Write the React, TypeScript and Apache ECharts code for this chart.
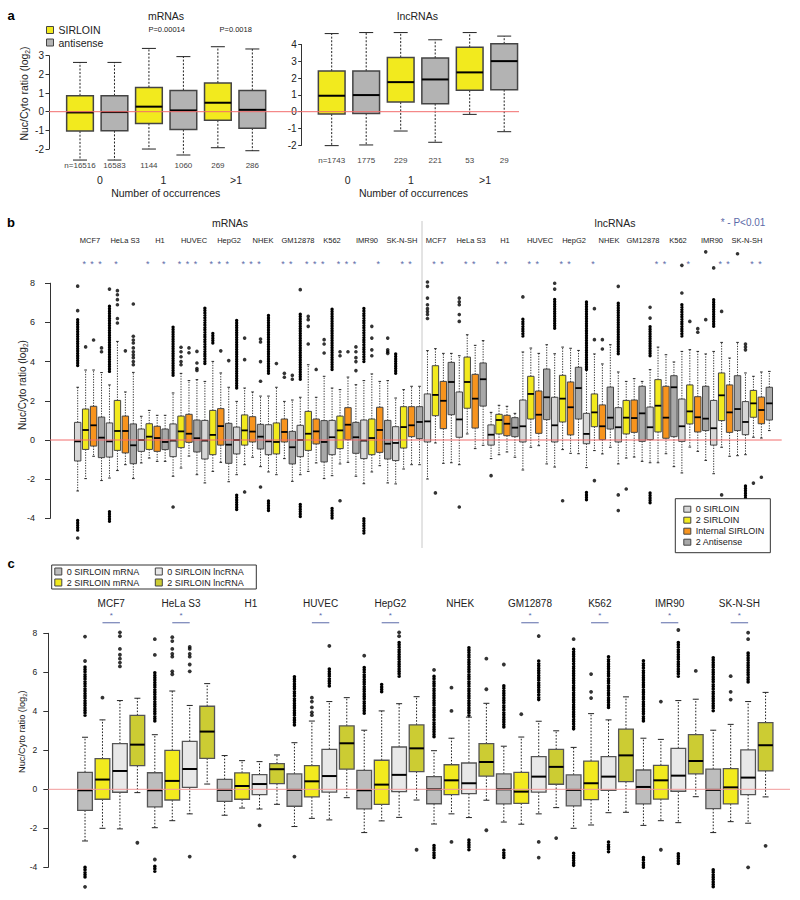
import React, { useEffect, useRef } from "react";
import * as echarts from "echarts";

const FONT = '"Liberation Sans", Arial, Helvetica, sans-serif';

// ================= panel a =================
const aCountLabels = ["0", "1", ">1"];
const aMrnaN = ["n=16516", "16583", "1144", "1060", "269", "286"];
const aLncN = ["n=1743", "1775", "229", "221", "53", "29"];
// rows: [min, Q1, median, Q3, max] for 0 / 1 / >1 occurrences
const aMrnaSirloin = [
  [-2.59, -1.04, -0.04, 0.86, 2.64],
  [-2.0, -0.63, 0.27, 1.3, 3.39],
  [-1.93, -0.46, 0.48, 1.54, 3.48],
];
const aMrnaAntisense = [
  [-2.59, -1.02, -0.02, 0.86, 2.64],
  [-2.32, -0.96, 0.07, 1.14, 2.95],
  [-2.09, -0.88, 0.1, 1.14, 3.36],
];
const aLncSirloin = [
  [-2.02, -0.14, 0.95, 2.42, 4.65],
  [-1.15, 0.57, 1.76, 3.23, 4.71],
  [-0.16, 1.27, 2.34, 3.84, 4.71],
];
const aLncAntisense = [
  [-1.98, -0.1, 0.99, 2.42, 4.71],
  [-1.82, 0.48, 1.92, 3.19, 4.28],
  [-1.19, 1.31, 3.01, 4.04, 4.5],
];
const aPValues = ["P=0.00014", "P=0.0018"];

// ================= panel b =================
const cellLines = ["MCF7", "HeLa S3", "H1", "HUVEC", "HepG2", "NHEK", "GM12878", "K562", "IMR90", "SK-N-SH"];
const bMrnaLabelX = [90, 125, 160, 194, 229, 263, 298, 332, 367, 402];
const bLncLabelX = [436, 471, 505, 540, 574, 609, 643, 678, 712, 747];
// 22 groups (11 mRNA then 11 lncRNA); rows [min, Q1, median, Q3, max]
const bZero = [
  [-2.6, -1.07, -0.07, 0.9, 2.69], [-1.94, -0.87, -0.07, 0.87, 2.81], [-1.17, -0.58, 0, 0.56, 1.21],
  [-1.85, -0.85, -0.03, 0.82, 2.4], [-2.19, -0.97, -0.03, 1.0, 2.99], [-1.77, -0.71, 0, 0.66, 1.97],
  [-1.63, -0.75, -0.07, 0.78, 2.24], [-1.77, -0.85, 0, 0.75, 2.18], [-1.82, -0.75, 0.14, 1.0, 2.65],
  [-2.23, -0.95, -0.03, 1.02, 3.03], [-2.24, -1.05, -0.15, 0.68, 2.14],
  [-1.99, -0.1, 0.95, 2.35, 4.56], [-1.26, 0.14, 1.05, 2.45, 4.3], [-0.95, -0.26, 0.27, 0.77, 1.41],
  [-1.53, -0.1, 0.7, 2.04, 4.49], [-1.38, -0.1, 0.75, 2.18, 4.4], [-1.41, -0.19, 0.31, 1.36, 3.67],
  [-1.22, -0.1, 0.65, 1.65, 3.47], [-1.16, 0.02, 0.65, 1.68, 3.59], [-1.68, -0.07, 0.7, 2.09, 4.52],
  [-1.72, -0.26, 0.6, 2.02, 4.52], [-0.75, 0.27, 0.92, 1.96, 3.42],
];
const bTwo = [
  [-1.97, -0.48, 0.51, 1.58, 3.57], [-1.56, -0.53, 0.46, 2.02, 5.03], [-0.92, -0.48, 0.17, 0.83, 1.51],
  [-1.43, -0.39, 0.44, 1.22, 3.4], [-1.6, -0.75, 0.26, 1.51, 4.01], [-1.26, -0.26, 0.49, 1.28, 2.65],
  [-1.77, -0.71, -0.1, 0.87, 2.69], [-1.6, -0.53, 0.32, 1.46, 3.84], [-1.22, -0.44, 0.49, 1.22, 2.57],
  [-1.63, -0.75, 0.1, 1.07, 3.37], [-1.48, -0.41, 0.66, 1.7, 2.57],
  [-0.15, 1.24, 2.3, 3.79, 4.66], [0.31, 1.62, 2.96, 4.23, 5.37], [-0.75, 0.31, 1.02, 1.31, 1.77],
  [-0.37, 1.07, 2.35, 3.25, 4.69], [-0.49, 0.92, 2.11, 3.3, 4.74], [-0.54, 0.68, 1.41, 2.35, 4.39],
  [-0.92, 0.31, 1.14, 2.02, 2.99], [-1.16, 0.41, 1.75, 3.08, 4.74], [-0.36, 0.82, 1.46, 2.81, 4.61],
  [-0.37, 0.99, 2.28, 3.42, 4.98], [0.14, 1.16, 1.87, 2.53, 3.25],
];
const bInternal = [
  [-0.83, -0.31, 0.75, 1.72, 3.57], [-1.26, -0.66, 0.46, 1.22, 2.45], [-1.09, -0.58, 0.1, 0.7, 1.26],
  [-0.82, -0.12, 0.32, 1.31, 3.03], [-1.14, -0.26, 0.71, 1.6, 3.42], [-0.88, -0.1, 0.43, 1.19, 2.45],
  [-0.95, -0.1, 0.41, 1.07, 1.97], [-1.17, -0.2, 0.44, 1.07, 2.18], [-1.14, 0.02, 0.78, 1.65, 3.21],
  [-1.31, -0.63, 0.51, 1.67, 2.99], [-1.26, 0.17, 0.75, 1.7, 2.74],
  [-1.19, 0.58, 2.0, 2.99, 4.42], [-0.44, 0.61, 2.11, 3.35, 4.83], [-0.61, 0.22, 0.83, 1.26, 1.72],
  [-0.29, 0.34, 1.29, 2.5, 4.42], [-0.68, 0.26, 1.67, 2.96, 4.68], [-0.71, 0.02, 0.7, 1.79, 3.88],
  [-0.87, 0.39, 1.12, 2.04, 3.13], [-0.7, 0.09, 1.14, 2.74, 4.35], [-0.58, 0.41, 1.16, 2.21, 4.52],
  [-0.83, 0.39, 1.41, 2.81, 4.18], [0.1, 0.83, 1.53, 2.19, 3.47],
];
const bAntisense = [
  [-2.07, -0.9, 0.12, 1.17, 3.44], [-1.97, -1.21, -0.27, 0.82, 3.45], [-1.09, -0.49, -0.1, 0.56, 1.26],
  [-1.77, -0.61, 0.09, 1.02, 3.08], [-2.13, -1.19, -0.24, 0.85, 2.69], [-1.36, -0.46, 0.17, 0.8, 2.24],
  [-2.11, -1.22, -0.37, 0.44, 2.04], [-1.97, -1.12, -0.1, 0.99, 3.25], [-1.85, -0.68, 0.14, 0.9, 2.82],
  [-2.19, -0.97, -0.19, 1.0, 3.03], [-1.26, 0.07, 0.92, 1.7, 2.74],
  [-1.16, 1.29, 2.96, 3.96, 4.42], [-0.27, 1.73, 3.1, 3.93, 5.07], [-0.88, 0.17, 0.63, 1.14, 1.36],
  [-1.22, 1.04, 2.18, 3.62, 4.86], [-0.7, 1.07, 2.65, 3.71, 4.57], [-0.37, 0.56, 1.14, 2.7, 4.86],
  [-1.09, -0.07, 1.36, 2.74, 2.99], [-1.36, 0.17, 2.69, 3.28, 3.98], [-1.04, 0.48, 1.09, 2.74, 4.39],
  [-0.8, 0.48, 1.58, 3.28, 4.98], [0.48, 1.02, 1.87, 2.69, 3.5],
];
// dense outlier runs [box index, low, high]
const bOutlierRuns = [
  [0, 3.8, 6.2], [0, -4.6, -4.0], [4, 3.5, 6.9], [4, -4.15, -3.55], [12, 3.3, 5.8], [16, 3.9, 6.82],
  [17, 4.95, 5.46], [20, 2.65, 6.14], [20, -3.55, -2.8], [24, 3.4, 6.36], [24, -3.6, -3.1],
  [28, 3.1, 6.5], [28, -3.9, -3.2], [32, 3.6, 6.73], [32, -3.98, -3.38], [36, 4.0, 6.8],
  [36, -4.75, -3.9], [40, 3.4, 4.4],
  [56, 5.3, 6.2], [60, 5.7, 7.2], [64, 3.6, 7.1], [64, -3.05, -2.6], [68, 4.4, 7.0],
  [72, 4.3, 5.8], [72, -3.2, -2.6], [76, 5.3, 6.9], [80, 5.8, 7.2], [84, -2.96, -2.3],
];
// single outliers [box index, value]
const bOutliers = [
  [0, 6.6], [0, 7.85], [0, -5.0], [1, 4.75], [2, 5.1], [3, 4.5], [3, 4.7], [4, 7.7],
  [5, 5.97], [5, 6.2], [5, 6.9], [5, 7.16], [5, 7.41], [5, 7.62], [6, 4.55],
  [7, 3.84], [7, 4.0], [7, 4.2], [7, 4.35], [7, 4.5], [7, 4.7], [7, 4.95], [7, 5.1], [7, 5.29], [7, 6.94],
  [12, -3.42], [13, 3.84], [13, 4.0], [13, 4.25], [13, 4.5], [13, 4.73], [14, 4.45], [14, 4.7],
  [15, 3.55], [15, 3.65], [15, 3.93], [15, 4.52], [18, 4.55], [19, 4.05],
  [21, 5.2], [21, 4.1], [21, -2.65], [23, 5.0], [23, 5.15], [23, 4.0], [23, 3.0], [23, -2.4],
  [25, 3.9], [26, 3.2], [26, 3.4], [27, 3.1], [27, 3.3], [28, 7.67],
  [29, 4.9], [29, 5.8], [29, 6.14], [29, 6.31], [30, 3.6], [31, 4.44], [31, 4.9], [31, 5.12],
  [33, 4.3], [33, 4.5], [33, -3.1], [34, 4.5], [35, 3.54], [35, 4.0], [35, 4.2], [35, 4.5], [35, 4.75],
  [37, 4.3], [37, 4.6], [37, 5.2], [37, 5.8], [39, 4.42], [39, 4.5], [39, 4.6], [39, 5.2],
  [44, 6.2], [44, 6.4], [44, 6.55], [44, 6.7], [44, 6.9], [44, 7.24], [44, 7.84], [44, 8.06], [45, -2.7],
  [48, 6.05], [48, 6.4], [48, 6.9], [48, 7.05], [48, 7.24], [48, -3.42], [52, -1.82], [56, 7.3],
  [60, 7.7], [60, 8.0], [61, -3.1], [65, 5.12], [65, 6.7], [65, -2.07], [66, 4.64], [66, 5.12],
  [68, 7.84], [68, -2.8], [68, -3.6], [69, -2.5], [72, 6.22], [72, 6.77], [76, 7.5], [76, 8.91],
  [77, 6.05], [78, 5.5], [78, 5.68], [79, 6.14], [79, 9.6], [80, 8.78], [81, 6.56], [81, -2.8],
  [83, 9.5], [84, 4.6], [84, 4.75], [84, 4.9], [85, -2.2], [86, -1.9],
];
const bStarMrna = [1, 2, 3, 5, 9, 11, 13, 14, 15, 17, 18, 19, 21, 22, 23, 26, 27, 29, 30, 31, 33, 34, 35, 38, 41, 42];
const bStarLnc = [1, 2, 5, 6, 9, 10, 13, 14, 17, 18, 21, 29, 30, 33, 37, 38, 41, 42];

// ================= panel c =================
const cZeroMrna = [
  [-2.65, -1.08, -0.05, 0.87, 2.67], [-1.97, -0.9, -0.05, 0.85, 2.8], [-1.33, -0.62, -0.03, 0.51, 1.73],
  [-1.91, -0.87, -0.03, 0.79, 2.39], [-2.22, -1.0, -0.05, 0.97, 3.03], [-1.78, -0.74, 0, 0.65, 1.98],
  [-1.68, -0.75, 0, 0.79, 2.21], [-2.0, -0.85, -0.03, 0.74, 2.15], [-1.85, -0.75, 0.12, 0.99, 2.62],
  [-2.22, -0.99, -0.03, 1.03, 3.03],
];
const cTwoMrna = [
  [-2.0, -0.51, 0.5, 1.57, 3.56], [-1.61, -0.55, 0.43, 2.0, 5.04], [-0.96, -0.51, 0.17, 0.84, 1.47],
  [-1.49, -0.39, 0.41, 1.21, 3.5], [-1.62, -0.77, 0.24, 1.49, 4.02], [-1.26, -0.27, 0.46, 1.26, 2.62],
  [-1.79, -0.72, -0.12, 0.87, 2.68], [-1.83, -0.53, 0.31, 1.45, 3.88], [-1.61, -0.5, 0.46, 1.23, 2.56],
  [-1.66, -0.75, 0.1, 1.06, 3.33],
];
const cZeroLnc = [
  [-2.03, -0.15, 0.94, 2.34, 4.55], [-1.26, 0.1, 1.04, 2.46, 4.3], [-1.01, -0.27, 0.27, 0.75, 1.42],
  [-1.57, -0.14, 0.68, 2.05, 4.5], [-1.44, -0.12, 0.74, 2.17, 4.39], [-1.45, -0.22, 0.31, 1.35, 3.7],
  [-1.26, -0.14, 0.65, 1.68, 3.49], [-1.2, -0.05, 0.65, 1.68, 3.56], [-1.71, -0.1, 0.7, 2.1, 4.55],
  [-1.74, -0.27, 0.6, 2.02, 4.5],
];
const cTwoLnc = [
  [-0.17, 1.21, 2.29, 3.79, 4.67], [0.27, 1.59, 2.96, 4.26, 5.42], [-0.77, 0.29, 1.03, 1.32, 1.76],
  [-0.43, 1.03, 2.36, 3.25, 4.7], [-0.55, 0.91, 2.1, 3.3, 4.75], [-0.56, 0.68, 1.4, 2.34, 4.41],
  [-0.94, 0.26, 1.15, 2.05, 3.0], [-1.18, 0.39, 1.74, 3.09, 4.74], [-0.38, 0.79, 1.45, 2.8, 4.62],
  [-0.39, 0.94, 2.26, 3.42, 4.97],
];
const cOutlierRuns = [
  [0, 3.8, 6.3], [0, -4.5, -3.9], [4, 3.5, 6.0], [4, -4.2, -3.9], [12, 3.3, 5.8], [14, 5.3, 6.2],
  [16, 3.9, 6.3], [17, 5.0, 5.4], [18, 5.8, 7.6], [20, 2.7, 5.8], [20, -3.5, -2.8], [22, 3.8, 7.35],
  [22, -3.1, -2.6], [24, 3.2, 5.42], [24, -3.5, -3.1], [26, 4.6, 6.63], [28, 3.1, 7.3], [28, -3.9, -3.2],
  [30, 4.2, 6.8], [30, -3.2, -2.6], [32, 3.5, 6.6], [32, -4.0, -3.5], [34, 5.8, 7.56], [34, -3.8, -3.3],
  [36, 4.03, 6.8], [36, -5.0, -4.1], [38, 5.5, 7.0],
];
const cOutliers = [
  [0, 6.58], [0, 7.83], [0, -5.0], [1, 4.7], [2, 6.3], [2, 6.5], [2, 6.7], [2, 6.9], [2, 7.2], [2, 7.85],
  [2, 8.05], [3, -2.74], [4, 6.89], [4, 7.7], [4, -3.6], [5, 5.9], [5, 6.05], [5, 6.8], [5, 6.95], [5, 7.2],
  [5, 7.6], [5, 7.8], [6, 6.05], [6, 6.4], [6, 6.8], [6, 6.95], [6, 7.2], [6, 7.3], [6, -3.45], [10, -1.85],
  [12, -3.45], [13, 3.8], [13, 3.95], [13, 4.2], [13, 4.5], [13, 4.7], [14, 7.35], [16, 6.85], [18, 7.85],
  [18, 8.05], [19, -3.1], [20, 6.12], [21, 4.02], [21, 5.21], [21, -2.7], [23, 5.13], [23, 6.7], [23, -2.1],
  [24, 6.4], [25, 3.85], [26, 7.86], [26, -2.7], [26, -3.5], [27, -2.5], [28, 7.7], [29, 4.68], [29, 5.0],
  [29, 5.91], [33, 4.5], [33, -3.1], [34, 8.17], [35, 6.07], [37, 4.6], [37, 5.0], [37, 5.8], [38, 7.7],
  [38, 8.03], [38, -4.0], [39, -2.9],
];
const cStarGroups = [0, 1, 3, 4, 6, 7, 8, 9];

// ================= layout =================
const A_LEFT_DATA = { left: 62.77, top: 37.02, width: 206.8, height: 130.69 }; // y -3..4
const A_LEFT_AXIS = { left: 49, top: 55.69, width: 470, height: 93.35 }; // y -2..3
const A_RIGHT_DATA = { left: 314.45, top: 27.7, width: 207, height: 134.4 }; // y -3..5
const A_RIGHT_AXIS = { left: 301.7, top: 44.5, width: 10, height: 100.8 }; // y -2..4
const B_DATA = { left: 73.7, top: 244, width: 699.6, height: 313.6 }; // y -6..10
const B_AXIS = { left: 50, top: 283.2, width: 731.7, height: 235.2 }; // y -4..8
const C_DATA = { left: 76.3, top: 604.05, width: 698, height: 292.5 }; // y -5.5..9.5
const C_AXIS = { left: 48.3, top: 633.3, width: 741.7, height: 234 }; // y -4..8

const YELLOW = "#f2ea1e";
const STAR_BLUE = "#5b6aa8";

type BoxCfg = { boxW: number; capW: number; border: string; bLine: number; medLine: number; dash: number[]; wLine: number; fill: string };

function boxRenderer(cfg: BoxCfg) {
  return function (_params: any, api: any) {
    const i = api.value(0);
    const c = (v: number) => api.coord([i, v]);
    const pMin = c(api.value(1));
    const pQ1 = c(api.value(2));
    const pMed = c(api.value(3));
    const pQ3 = c(api.value(4));
    const pMax = c(api.value(5));
    const x = pMed[0];
    const hw = cfg.boxW / 2;
    const cw = cfg.capW / 2;
    const wStyle = { stroke: "#222", lineWidth: cfg.wLine, lineDash: cfg.dash, fill: null };
    const capStyle = { stroke: "#222", lineWidth: 1 };
    return {
      type: "group",
      children: [
        { type: "line", shape: { x1: x, y1: pQ3[1], x2: x, y2: pMax[1] }, style: wStyle },
        { type: "line", shape: { x1: x, y1: pQ1[1], x2: x, y2: pMin[1] }, style: wStyle },
        { type: "line", shape: { x1: x - cw, y1: pMax[1], x2: x + cw, y2: pMax[1] }, style: capStyle },
        { type: "line", shape: { x1: x - cw, y1: pMin[1], x2: x + cw, y2: pMin[1] }, style: capStyle },
        {
          type: "rect",
          shape: { x: x - hw, y: pQ3[1], width: cfg.boxW, height: pQ1[1] - pQ3[1] },
          style: { fill: cfg.fill, stroke: cfg.border, lineWidth: cfg.bLine },
        },
        { type: "line", shape: { x1: x - hw, y1: pMed[1], x2: x + hw, y2: pMed[1] }, style: { stroke: "#000", lineWidth: cfg.medLine } },
      ],
    };
  };
}

function boxSeries(name: string, rows: number[][], idxOf: (j: number) => number, axis: number, cfg: BoxCfg) {
  return {
    type: "custom",
    name,
    xAxisIndex: axis,
    yAxisIndex: axis,
    itemStyle: { color: cfg.fill, borderColor: cfg.border },
    encode: { x: 0, y: [1, 2, 3, 4, 5] },
    data: rows.map((r, j) => [idxOf(j), ...r]),
    renderItem: boxRenderer(cfg),
    z: 3,
    silent: true,
  };
}

// dense columns of outlier points, drawn as closely spaced round dots
function runSeries(runs: number[][], axis: number, w: number) {
  return {
    type: "custom",
    xAxisIndex: axis,
    yAxisIndex: axis,
    encode: { x: 0, y: [1, 2] },
    data: runs,
    z: 4,
    silent: true,
    renderItem: (_p: any, api: any) => {
      const a = api.coord([api.value(0), api.value(1)]);
      const b = api.coord([api.value(0), api.value(2)]);
      return {
        type: "line",
        shape: { x1: a[0], y1: a[1], x2: b[0], y2: b[1] },
        style: { stroke: "#000", lineWidth: w, lineCap: "round", lineDash: [0.01, 2.4] },
      };
    },
  };
}

function pointSeries(pts: number[][], axis: number, size: number) {
  return {
    type: "scatter",
    xAxisIndex: axis,
    yAxisIndex: axis,
    data: pts,
    symbol: "circle",
    symbolSize: size,
    itemStyle: { color: "#000" },
    z: 4,
    silent: true,
  };
}

function zeroLine(axis: number, color: string, width: number) {
  return {
    type: "line",
    xAxisIndex: axis,
    yAxisIndex: axis,
    data: [[0, 0], [1, 0]],
    symbol: "none",
    lineStyle: { color, width },
    z: 6,
    silent: true,
  };
}

function txt(x: number, y: number, text: string, size: number, opts: any = {}) {
  const align = opts.align || "center";
  return {
    type: "text",
    x,
    y,
    rotation: opts.rotation || 0,
    silent: true,
    z: 10,
    style: {
      text,
      fontSize: size,
      fontFamily: FONT,
      fontWeight: opts.weight || "normal",
      fill: opts.fill || "#222",
      align,
      textAlign: align,
      verticalAlign: "middle",
      textVerticalAlign: "middle",
    },
  };
}

function yTitle(x: number, y: number, size: number) {
  return {
    type: "text",
    x,
    y,
    rotation: Math.PI / 2,
    silent: true,
    z: 10,
    style: {
      text: "{a|Nuc/Cyto ratio (log}{s|2}{a|)}",
      fontFamily: FONT,
      fill: "#222",
      align: "center",
      textAlign: "center",
      verticalAlign: "middle",
      textVerticalAlign: "middle",
      rich: {
        a: { fontSize: size, fontFamily: FONT, fill: "#222", lineHeight: size + 3 },
        s: { fontSize: size * 0.65, fontFamily: FONT, fill: "#222", lineHeight: size * 0.7, verticalAlign: "bottom" },
      },
    },
  };
}

function hiddenCat(gridIndex: number, n: number) {
  return { type: "category", gridIndex, data: Array.from({ length: n }, (_, i) => String(i)), show: false };
}
function hiddenVal(gridIndex: number, min: number, max: number) {
  return { type: "value", gridIndex, min, max, show: false, splitLine: { show: false } };
}
function visY(gridIndex: number, min: number, max: number, interval: number, fontSize: number, margin: number, tickLen: number) {
  return {
    type: "value",
    gridIndex,
    min,
    max,
    interval,
    axisLine: { show: true, lineStyle: { color: "#333", width: 1 } },
    axisTick: { show: true, length: tickLen, lineStyle: { color: "#333", width: 1 } },
    axisLabel: { fontSize, color: "#222", margin, fontFamily: FONT },
    splitLine: { show: false },
  };
}
function nAxis(gridIndex: number, labels: string[]) {
  return {
    type: "category",
    gridIndex,
    data: labels,
    axisLine: { show: false },
    axisTick: { show: false },
    axisLabel: { fontSize: 8, color: "#444", margin: -2, verticalAlign: "middle", interval: 0, fontFamily: FONT },
  };
}

export default function App() {
  const ref = useRef<HTMLDivElement>(null);
  useEffect(() => {
    if (!ref.current) return;
    const chart = echarts.init(ref.current, undefined, { renderer: "svg" });

    const aCfg = (fill: string): BoxCfg => ({ boxW: 26.7, capW: 14, border: "#444", bLine: 1.5, medLine: 2, dash: [2, 1.6], wLine: 1, fill });
    const bCfg = (fill: string): BoxCfg => ({ boxW: 6.4, capW: 2.6, border: "#444", bLine: 1, medLine: 1.8, dash: [1.3, 1.3], wLine: 0.9, fill });
    const cCfg = (fill: string): BoxCfg => ({ boxW: 14.7, capW: 6, border: "#555", bLine: 1.3, medLine: 2, dash: [1.6, 1.6], wLine: 1, fill });

    const bStars = [...bStarMrna.map((i) => [i, 9.0]), ...bStarLnc.map((i) => [i + 44, 9.0])];
    const cBrackets = cStarGroups.map((g) => [4 * g + 1, 4 * g + 2, 8.91, 8.54]);

    const graphicEls: any[] = [
      // panel a
      txt(11, 15, "a", 13, { weight: "bold", fill: "#000" }),
      txt(166, 15.7, "mRNAs", 10.5),
      txt(417.5, 15.7, "lncRNAs", 10.5),
      txt(166.7, 29.3, aPValues[0], 7.5),
      txt(235.7, 29.3, aPValues[1], 7.5),
      txt(100, 180, aCountLabels[0], 10.5),
      txt(163.3, 180, aCountLabels[1], 10.5),
      txt(236, 180, aCountLabels[2], 10.5),
      txt(347.7, 180, aCountLabels[0], 10.5),
      txt(411, 180, aCountLabels[1], 10.5),
      txt(485, 180, aCountLabels[2], 10.5),
      txt(165.7, 193.3, "Number of occurrences", 10.5),
      txt(413.5, 193.3, "Number of occurrences", 10.5),
      yTitle(24, 93.5, 10.5),
      // panel b
      txt(11, 222, "b", 13, { weight: "bold", fill: "#000" }),
      txt(230, 222.7, "mRNAs", 10.5),
      txt(615, 222.7, "lncRNAs", 10.5),
      txt(743, 222.7, "* - P<0.01", 10, { fill: STAR_BLUE }),
      ...cellLines.map((n, i) => txt(bMrnaLabelX[i], 240, n, 7.5)),
      ...cellLines.map((n, i) => txt(bLncLabelX[i], 240, n, 7.5)),
      {
        type: "line",
        silent: true,
        z: 1,
        shape: { x1: 422, y1: 221, x2: 422, y2: 548 },
        style: { stroke: "#c8c8c8", lineWidth: 1 },
      },
      yTitle(22.7, 385, 10),
      // panel c
      txt(11, 563, "c", 13, { weight: "bold", fill: "#000" }),
      ...cellLines.map((n, g) => txt(C_DATA.left + (C_DATA.width / 40) * (4 * g + 2), 603.3, n, 10)),
      yTitle(21.7, 731.7, 9.2),
    ];

    const option: any = {
      animation: false,
      backgroundColor: "#fff",
      textStyle: { fontFamily: FONT },
      grid: [A_LEFT_DATA, A_LEFT_AXIS, A_RIGHT_DATA, A_RIGHT_AXIS, B_DATA, B_AXIS, C_DATA, C_AXIS].map((g) => ({ ...g, containLabel: false })),
      xAxis: [
        nAxis(0, aMrnaN),
        { type: "value", gridIndex: 1, min: 0, max: 1, show: false },
        nAxis(2, aLncN),
        { type: "value", gridIndex: 3, min: 0, max: 1, show: false },
        hiddenCat(4, 88),
        { type: "value", gridIndex: 5, min: 0, max: 1, show: false },
        hiddenCat(6, 40),
        { type: "value", gridIndex: 7, min: 0, max: 1, show: false },
      ],
      yAxis: [
        hiddenVal(0, -3, 4),
        visY(1, -2, 3, 1, 10, 5, 3.5),
        hiddenVal(2, -3, 5),
        visY(3, -2, 4, 1, 10, 5, 3.5),
        hiddenVal(4, -6, 10),
        visY(5, -4, 8, 2, 9, 15, 5),
        hiddenVal(6, -5.5, 9.5),
        visY(7, -4, 8, 2, 8.5, 11, 5),
      ],
      legend: [
        {
          data: ["SIRLOIN", "antisense"],
          orient: "vertical",
          left: 46,
          top: 24,
          padding: 0,
          itemGap: 0.5,
          itemWidth: 7,
          itemHeight: 7,
          icon: "rect",
          selectedMode: false,
          itemStyle: { borderColor: "#444", borderWidth: 1 },
          textStyle: { fontSize: 10.5, lineHeight: 12, color: "#222", fontFamily: FONT },
        },
        {
          data: ["0 SIRLOIN", "2 SIRLOIN", "Internal SIRLOIN", "2 Antisense"],
          orient: "vertical",
          left: 675.3,
          top: 498.7,
          padding: [5, 6, 5, 8],
          itemGap: 0,
          itemWidth: 7,
          itemHeight: 6,
          icon: "rect",
          selectedMode: false,
          borderColor: "#333",
          borderWidth: 1,
          backgroundColor: "#fff",
          itemStyle: { borderColor: "#444", borderWidth: 1 },
          textStyle: { fontSize: 9, lineHeight: 11, color: "#222", fontFamily: FONT },
          z: 8,
        },
        {
          data: ["0 SIRLOIN mRNA", "0 SIRLOIN lncRNA", "2 SIRLOIN mRNA", "2 SIRLOIN lncRNA"],
          orient: "horizontal",
          left: 51.7,
          top: 565,
          width: 205,
          padding: [1, 1, 1, 2.6],
          itemGap: 0,
          itemWidth: 7,
          itemHeight: 7,
          icon: "rect",
          selectedMode: false,
          borderColor: "#333",
          borderWidth: 1,
          itemStyle: { borderColor: "#444", borderWidth: 1 },
          textStyle: { fontSize: 9, lineHeight: 11, width: 88, color: "#222", fontFamily: FONT },
        },
      ],
      series: [
        // panel a
        boxSeries("SIRLOIN", aMrnaSirloin, (j) => 2 * j, 0, aCfg(YELLOW)),
        boxSeries("antisense", aMrnaAntisense, (j) => 2 * j + 1, 0, aCfg("#b3b3b3")),
        boxSeries("SIRLOIN", aLncSirloin, (j) => 2 * j, 2, aCfg(YELLOW)),
        boxSeries("antisense", aLncAntisense, (j) => 2 * j + 1, 2, aCfg("#b3b3b3")),
        zeroLine(1, "#f26d6d", 1),
        // panel b
        boxSeries("0 SIRLOIN", bZero, (j) => 4 * j, 4, bCfg("#d6d6d6")),
        boxSeries("2 SIRLOIN", bTwo, (j) => 4 * j + 1, 4, bCfg(YELLOW)),
        boxSeries("Internal SIRLOIN", bInternal, (j) => 4 * j + 2, 4, bCfg("#f7941e")),
        boxSeries("2 Antisense", bAntisense, (j) => 4 * j + 3, 4, bCfg("#a8a8a8")),
        runSeries(bOutlierRuns, 4, 3.4),
        pointSeries(bOutliers, 4, 3.6),
        {
          type: "custom",
          xAxisIndex: 4,
          yAxisIndex: 4,
          encode: { x: 0, y: 1 },
          data: bStars,
          silent: true,
          z: 5,
          renderItem: (_p: any, api: any) => {
            const p = api.coord([api.value(0), api.value(1)]);
            return {
              type: "text",
              x: p[0] - 1.5,
              y: p[1],
              style: { text: "*", fontSize: 9, fontFamily: FONT, fill: STAR_BLUE, align: "center", verticalAlign: "middle" },
            };
          },
        },
        zeroLine(5, "#f26d6d", 1),
        // panel c
        boxSeries("0 SIRLOIN mRNA", cZeroMrna, (j) => 4 * j, 6, cCfg("#bdbdbd")),
        boxSeries("2 SIRLOIN mRNA", cTwoMrna, (j) => 4 * j + 1, 6, cCfg(YELLOW)),
        boxSeries("0 SIRLOIN lncRNA", cZeroLnc, (j) => 4 * j + 2, 6, cCfg("#e8e8e8")),
        boxSeries("2 SIRLOIN lncRNA", cTwoLnc, (j) => 4 * j + 3, 6, cCfg("#cccc33")),
        runSeries(cOutlierRuns, 6, 3.6),
        pointSeries(cOutliers, 6, 3.8),
        {
          type: "custom",
          xAxisIndex: 6,
          yAxisIndex: 6,
          encode: { x: [0, 1], y: [2, 3] },
          data: cBrackets,
          silent: true,
          z: 5,
          renderItem: (_p: any, api: any) => {
            const l = api.coord([api.value(0), api.value(3)]);
            const r = api.coord([api.value(1), api.value(3)]);
            const s = api.coord([api.value(0), api.value(2)]);
            const mx = (l[0] + r[0]) / 2;
            return {
              type: "group",
              children: [
                { type: "line", shape: { x1: l[0], y1: l[1], x2: r[0], y2: r[1] }, style: { stroke: STAR_BLUE, lineWidth: 1 } },
                {
                  type: "text",
                  x: mx,
                  y: s[1],
                  style: { text: "*", fontSize: 8, fontFamily: FONT, fill: STAR_BLUE, align: "center", verticalAlign: "middle" },
                },
              ],
            };
          },
        },
        zeroLine(7, "#f29a9a", 1),
      ],
      graphic: { elements: graphicEls },
    };

    chart.setOption(option);
    return () => chart.dispose();
  }, []);

  return <div ref={ref} style={{ position: "absolute", left: 0, top: 0, width: 800, height: 900 }} />;
}
